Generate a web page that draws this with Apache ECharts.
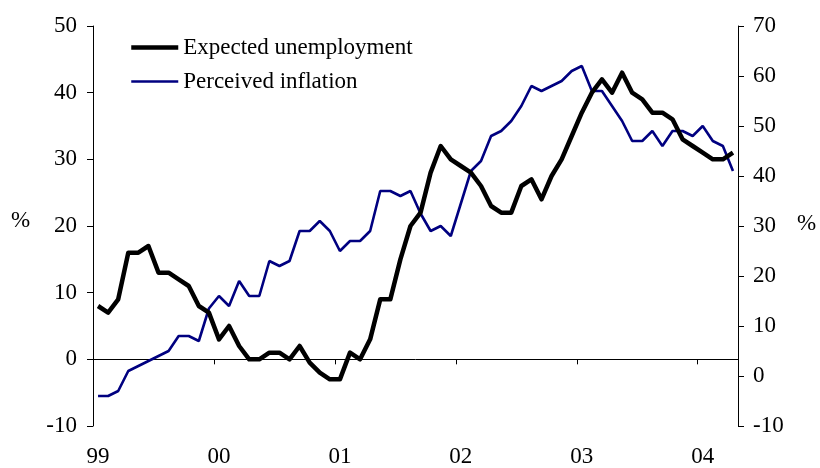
<!DOCTYPE html>
<html>
<head>
<meta charset="utf-8">
<script src="https://cdn.jsdelivr.net/npm/echarts@6/dist/echarts.min.js"></script>
<style>html,body{margin:0;padding:0;background:#fff}#c{width:820px;height:468px}</style>
</head>
<body>
<div id="c"></div>
<script>
var years = ['99', '00', '01', '02', '03', '04'];
var monthsInLastYear = 4;
var categories = [];
years.forEach(function (y, k) {
  var n = k === years.length - 1 ? monthsInLastYear : 12;
  for (var m = 1; m <= n; m++) categories.push(y + '-' + (m < 10 ? '0' + m : m));
});

var expectedUnemployment = [
  8, 7, 9, 16, 16, 17, 13, 13, 12, 11, 8, 7,
  3, 5, 2, 0, 0, 1, 1, 0, 2, -0.5, -2, -3,
  -3, 1, 0, 3, 9, 9, 15, 20, 22, 28, 32, 30,
  29, 28, 26, 23, 22, 22, 26, 27, 24, 27.5, 30, 33.5,
  37, 40, 42, 40, 43, 40, 39, 37, 37, 36, 33, 32,
  31, 30, 30, 31
];
var perceivedInflation = [
  -4, -4, -3, 1, 2, 3, 4, 5, 8, 8, 7, 13.5,
  16, 14, 19, 16, 16, 23, 22, 23, 29, 29, 31, 29,
  25, 27, 27, 29, 37, 37, 36, 37, 32.5, 29, 30, 28,
  34.5, 41, 43, 48, 49, 51, 54, 58, 57, 58, 59, 61,
  62, 57, 57, 54, 51, 47, 47, 49, 46, 49, 49, 48,
  50, 47, 46, 41
];
var seriesNames = ['Expected unemployment', 'Perceived inflation'];
var leftTicks = {min: -10, max: 50, interval: 10};
var rightTicks = {min: -10, max: 70, interval: 10};

var FONT = '"Liberation Serif", "Times New Roman", serif';
var FS = 23;
var W_UNEMP = 4.5, W_INFL = 2.6;
var chart = echarts.init(document.getElementById('c'), null, {renderer: 'canvas'});
chart.setOption({
  animation: false,
  backgroundColor: '#ffffff',
  grid: {left: 93, right: 82, top: 26, height: 400},
  legend: {
    orient: 'vertical', left: 124, top: 31,
    itemWidth: 47, itemHeight: 24, itemGap: 11,
    itemStyle: {opacity: 0},
    textStyle: {fontFamily: FONT, fontSize: FS, color: '#000'},
    data: [
      {name: seriesNames[0], lineStyle: {width: W_UNEMP, color: '#000000'}},
      {name: seriesNames[1], lineStyle: {width: W_INFL, color: '#000080'}}
    ]
  },
  xAxis: [
    {
      type: 'category', data: categories, boundaryGap: true, position: 'bottom',
      axisLine: {show: true, onZero: true, onZeroAxisIndex: 0, lineStyle: {color: '#000', width: 1}},
      axisTick: {show: true, interval: 11, length: 5, lineStyle: {color: '#000'}},
      axisLabel: {show: false}, splitLine: {show: false}
    },
    {
      type: 'category', data: categories, boundaryGap: true, position: 'bottom',
      axisLine: {show: false, onZero: false}, axisTick: {show: false},
      axisLabel: {
        show: true, interval: 11, margin: 19,
        fontFamily: FONT, fontSize: FS, color: '#000',
        formatter: function (v) { return years[years.indexOf(v.slice(0, 2))]; }
      },
      splitLine: {show: false}
    }
  ],
  yAxis: [
    {
      type: 'value', position: 'left', min: leftTicks.min, max: leftTicks.max, interval: leftTicks.interval,
      axisLine: {show: true, lineStyle: {color: '#000'}},
      axisTick: {show: true, length: 6, lineStyle: {color: '#000'}},
      axisLabel: {margin: 16, fontFamily: FONT, fontSize: FS, color: '#000'},
      splitLine: {show: false}
    },
    {
      type: 'value', position: 'right', min: rightTicks.min, max: rightTicks.max, interval: rightTicks.interval,
      axisLine: {show: true, lineStyle: {color: '#000'}},
      axisTick: {show: true, length: 6, lineStyle: {color: '#000'}},
      axisLabel: {margin: 15, fontFamily: FONT, fontSize: FS, color: '#000'},
      splitLine: {show: false}
    }
  ],
  graphic: [
    {type: 'text', left: 11, top: 209, style: {text: '%', fontFamily: FONT, fontSize: FS, fill: '#000'}},
    {type: 'text', left: 797, top: 212, style: {text: '%', fontFamily: FONT, fontSize: FS, fill: '#000'}}
  ],
  series: [
    {
      name: seriesNames[0], type: 'line', xAxisIndex: 0, yAxisIndex: 0,
      data: expectedUnemployment, showSymbol: false, symbol: 'none',
      lineStyle: {color: '#000000', width: W_UNEMP, join: 'round'}, itemStyle: {color: '#000000'}, z: 3
    },
    {
      name: seriesNames[1], type: 'line', xAxisIndex: 0, yAxisIndex: 1,
      data: perceivedInflation, showSymbol: false, symbol: 'none',
      lineStyle: {color: '#000080', width: W_INFL}, itemStyle: {color: '#000080'}, z: 2
    }
  ]
});
</script>
</body>
</html>
